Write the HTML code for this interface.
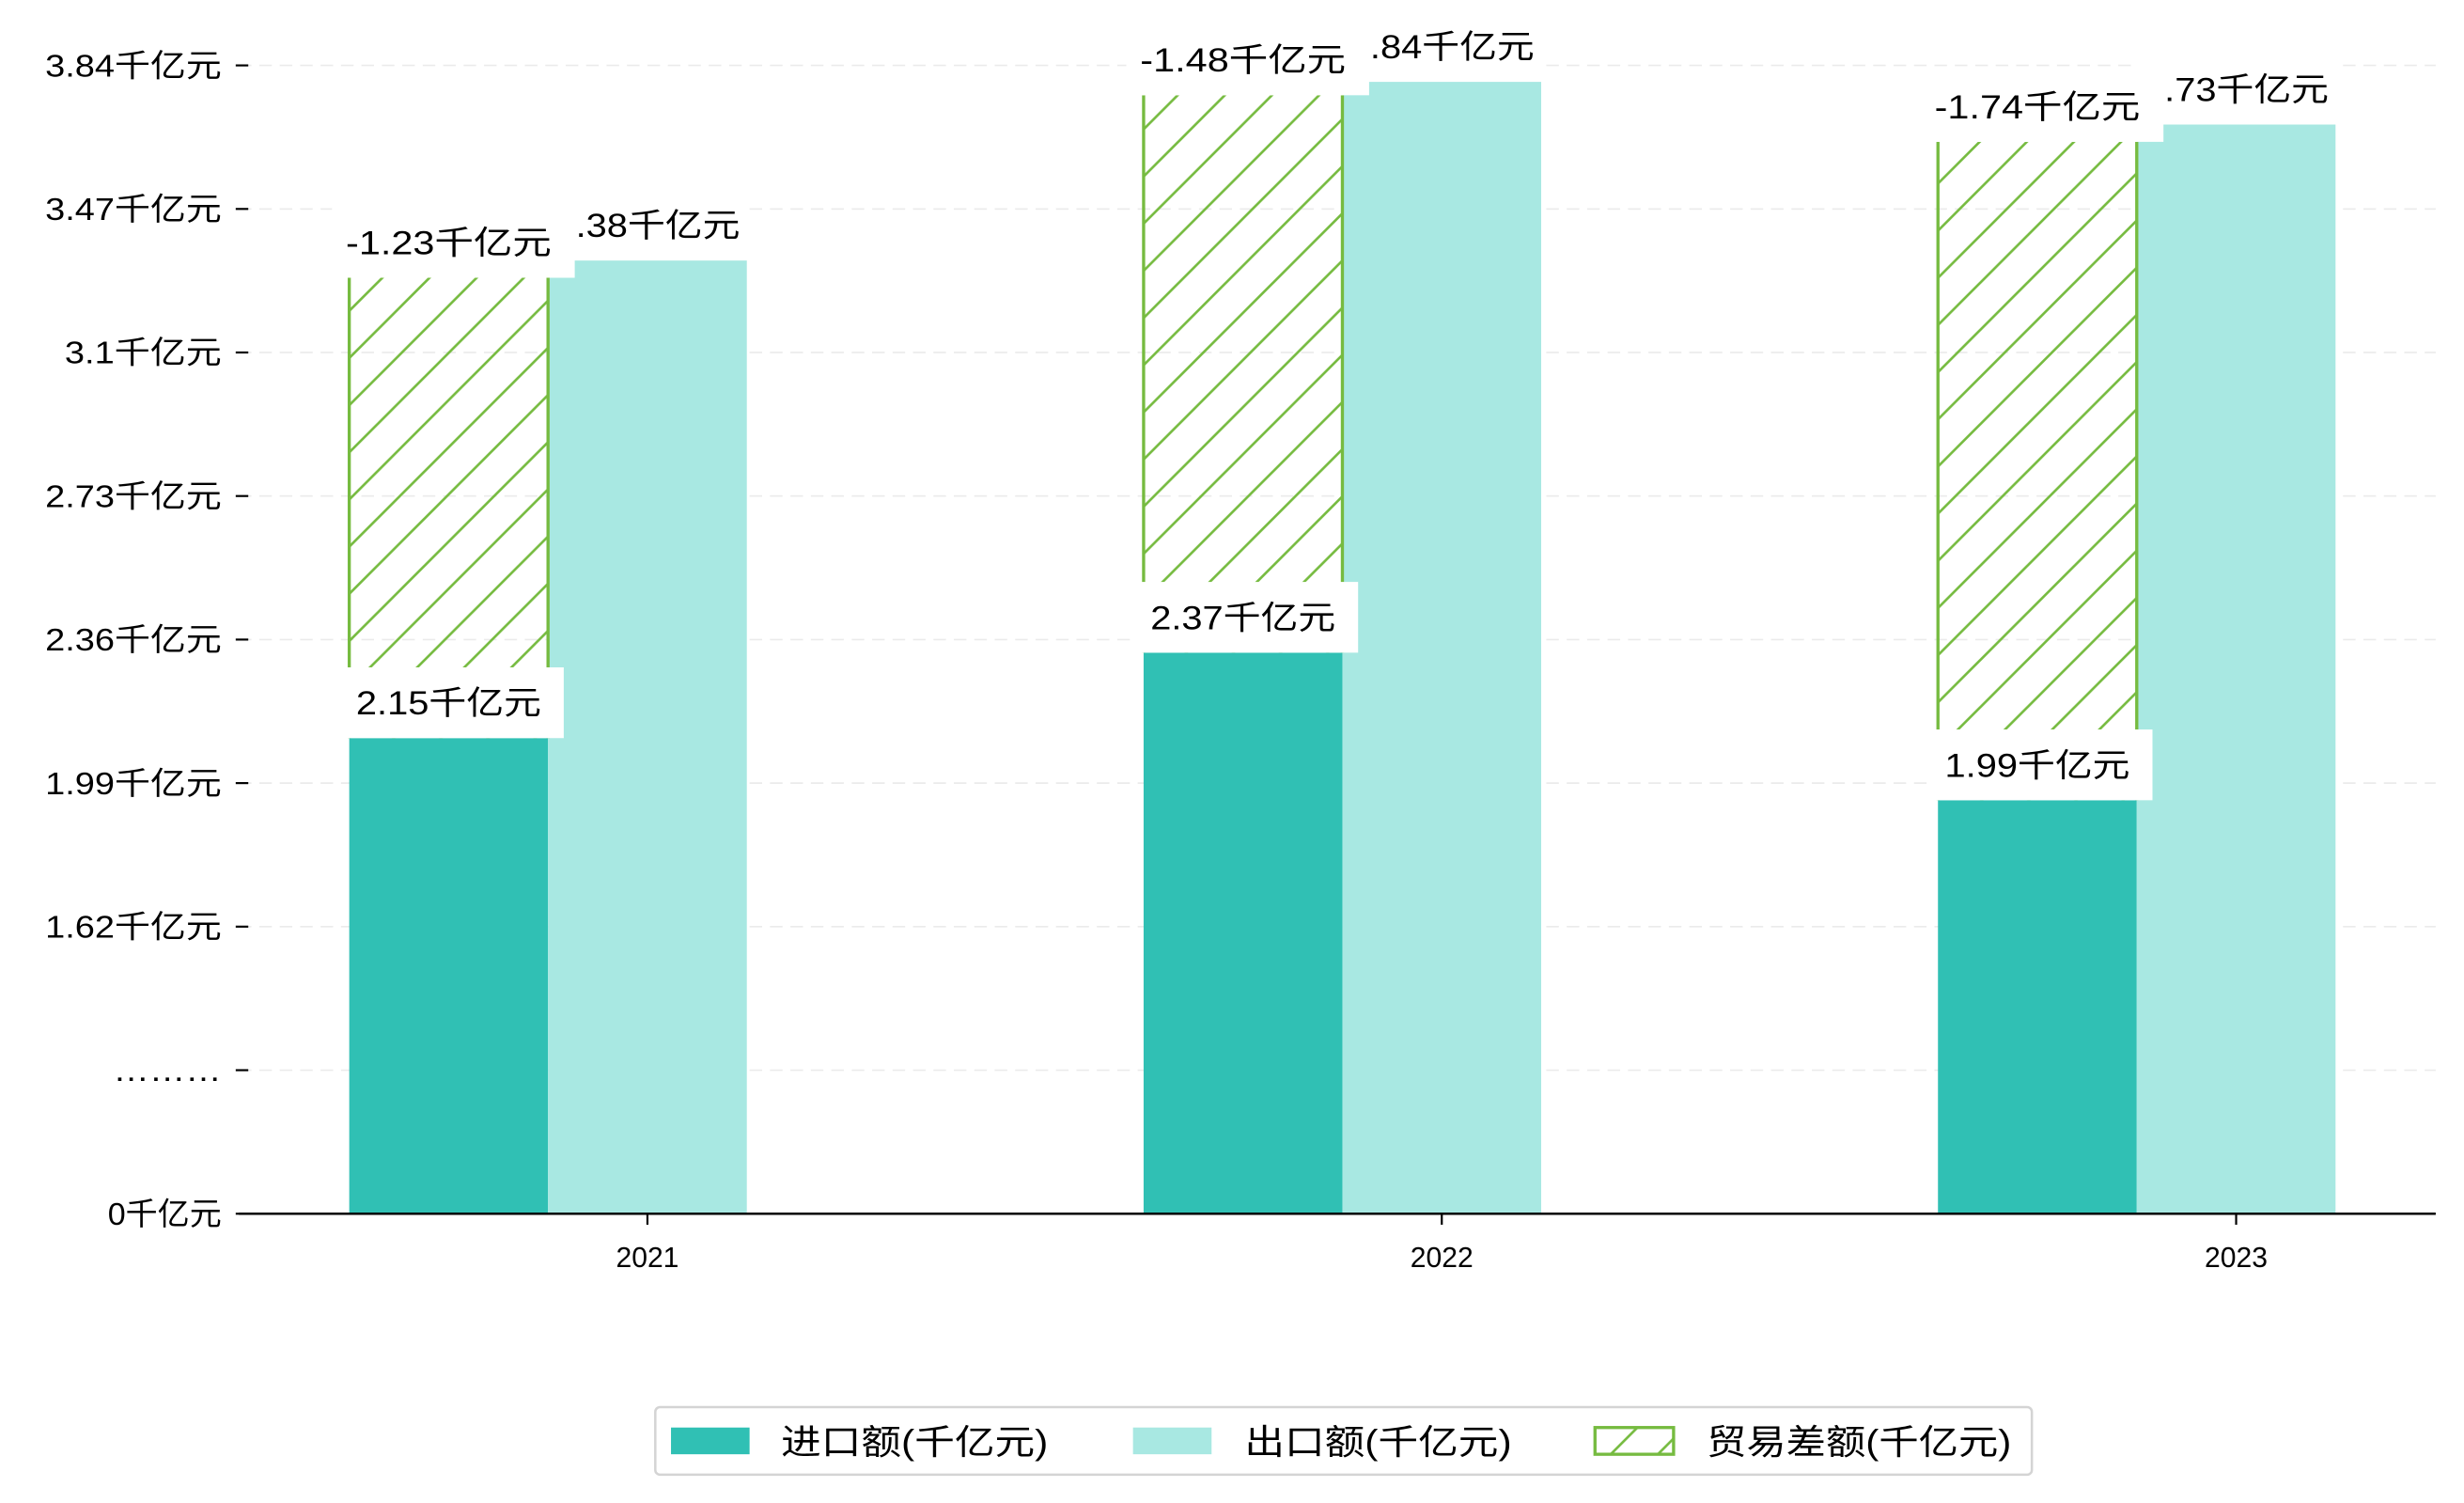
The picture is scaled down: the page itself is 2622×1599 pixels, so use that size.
<!DOCTYPE html>
<html><head><meta charset="utf-8"><style>
html,body{margin:0;padding:0;background:#fff;}
svg{display:block;}
text{font-family:"WenQuanYi Zen Hei","Liberation Sans","Noto Sans CJK SC",sans-serif;fill:#000;}
</style></head><body>
<svg id="chart" width="2622" height="1599" viewBox="0 0 1568 956" preserveAspectRatio="none" xmlns="http://www.w3.org/2000/svg">
<defs>
<pattern id="hatch" patternUnits="userSpaceOnUse" width="30" height="30">
<line x1="-3" y1="33" x2="33" y2="-3" stroke="#76bb40" stroke-width="1.6"/>
<line x1="-33" y1="33" x2="3" y2="-3" stroke="#76bb40" stroke-width="1.6"/>
<line x1="27" y1="33" x2="63" y2="-3" stroke="#76bb40" stroke-width="1.6"/>
</pattern>
</defs>
<g id="grid"></g>
<g id="bars"></g>
<g id="labels"></g>
<g id="axes"></g>
<g id="legend">
<rect x="417" y="895" width="876" height="43" rx="3" fill="#fff" stroke="#d4d4d4" stroke-width="1.5"/>
<g>
<rect x="427" y="908" width="50" height="17" fill="#30c0b4"/>
<text x="497" y="925" font-size="22" textLength="170" lengthAdjust="spacingAndGlyphs">进口额(千亿元)</text></g>
<g>
<rect x="721" y="908" width="50" height="17" fill="#a8e8e2"/>
<text x="792" y="925" font-size="22" textLength="170" lengthAdjust="spacingAndGlyphs">出口额(千亿元)</text></g>
<g>
<rect x="1015" y="908" width="50" height="17" fill="url(#hatch)" stroke="#76bb40" stroke-width="2"/>
<text x="1086" y="925" font-size="22" textLength="194" lengthAdjust="spacingAndGlyphs">贸易差额(千亿元)</text></g>
</g>
</svg>
<script>
const categories = ["2021","2022","2023"];
const importValues = [2.15, 2.37, 1.99];
const exportValues = [3.38, 3.84, 3.73];
const balanceValues = [-1.23, -1.48, -1.74];
const tickLabels = ["0千亿元","………","1.62千亿元","1.99千亿元","2.36千亿元","2.73千亿元","3.1千亿元","3.47千亿元","3.84千亿元"];

const NS = "http://www.w3.org/2000/svg";
const axisY = 772, plotL = 152, plotR = 1550;
function yScale(v){ return Math.min(axisY, 509 - (v - 1.99) * 247); }
function xCenter(i){ return 412 + i * 505.5; }
function tickY(i){ return axisY - i * 91.3; }
const barW = 126.5;
function mk(tag, attrs, parent){
  const e = document.createElementNS(NS, tag);
  for (const k in attrs) e.setAttribute(k, attrs[k]);
  parent.appendChild(e); return e;
}
function textWidth(s, fs){
  let w = 0;
  for (const ch of s) {
    if (/[\u4e00-\u9fff]/.test(ch)) w += fs;
    else if (ch === '.') w += fs * 0.75;
    else if (ch === '…') w += fs * 1.15;
    else w += fs * 0.62;
  }
  return w;
}
const grid = document.getElementById('grid');
const axes = document.getElementById('axes');
const bars = document.getElementById('bars');
const labels = document.getElementById('labels');

tickLabels.forEach((t, i) => {
  const y = tickY(i);
  if (i > 0) {
    const g = mk('line', {x1: plotL, x2: plotR, y1: y, y2: y, stroke: '#ebebeb', 'stroke-dasharray': '8,5', 'stroke-width': 1}, grid);
    
    
  }
  const tk = mk('line', {x1: 150, x2: 158, y1: y, y2: y, stroke: '#000', 'stroke-width': 1.3}, axes);
  
  
  const tx = mk('text', {x: 141, y: y + 7, 'text-anchor': 'end', 'font-size': 20, textLength: textWidth(t, 20), lengthAdjust: 'spacingAndGlyphs'}, axes);
  tx.textContent = t;
  
  
});
const ax = mk('line', {x1: plotL, x2: plotR, y1: axisY, y2: axisY, stroke: '#000', 'stroke-width': 1.5}, axes);



function label(txt, cx, bottom, boxL, boxR, parent, name){
  const g = mk('g', {}, parent);
  
  
  mk('rect', {x: boxL, y: bottom - 45, width: boxR - boxL, height: 45, fill: '#fff'}, g);
  const t = mk('text', {x: cx, y: bottom - 15, 'text-anchor': 'middle', 'font-size': 21, textLength: textWidth(txt, 21), lengthAdjust: 'spacingAndGlyphs'}, g);
  t.textContent = txt;
}

categories.forEach((c, i) => {
  const cx = xCenter(i);
  const x0 = cx - 1.5 * barW, x1 = cx - 0.5 * barW;
  const yi = yScale(importValues[i]);
  const ye = yScale(exportValues[i]);
  const yh = yScale(importValues[i] + Math.abs(balanceValues[i])) + 11;
  const bi = mk('rect', {x: x0, y: yi, width: barW, height: axisY - yi, fill: '#30c0b4'}, bars);
  
  
  const be = mk('rect', {x: x1, y: ye, width: barW, height: axisY - ye, fill: '#a8e8e2'}, bars);
  
  
  const bh = mk('g', {}, bars);
  
  
  mk('rect', {x: x0, y: yh, width: barW, height: yi - yh, fill: 'url(#hatch)'}, bh);
  mk('line', {x1: x0, x2: x0, y1: yh, y2: yi, stroke: '#76bb40', 'stroke-width': 2}, bh);
  mk('line', {x1: x1, x2: x1, y1: yh, y2: yi, stroke: '#76bb40', 'stroke-width': 2}, bh);

  const xt = mk('line', {x1: cx, x2: cx, y1: axisY, y2: axisY + 7, stroke: '#000', 'stroke-width': 1.3}, axes);
  
  
  const xl = mk('text', {x: cx, y: 806, 'text-anchor': 'middle', 'font-size': 18}, axes);
  xl.textContent = c;
  
  

  label(exportValues[i].toFixed(2) + '千亿元', x1 + barW/2, ye, x1, x1 + barW, labels, 'export-value-label');
  label(balanceValues[i].toFixed(2) + '千亿元', x0 + barW/2, yh, x0 - 11, x1 + 17, labels, 'balance-value-label');
  label(importValues[i].toFixed(2) + '千亿元', x0 + barW/2, yi, x0 - 5, x1 + 10, labels, 'import-value-label');
});
</script>
</body></html>
